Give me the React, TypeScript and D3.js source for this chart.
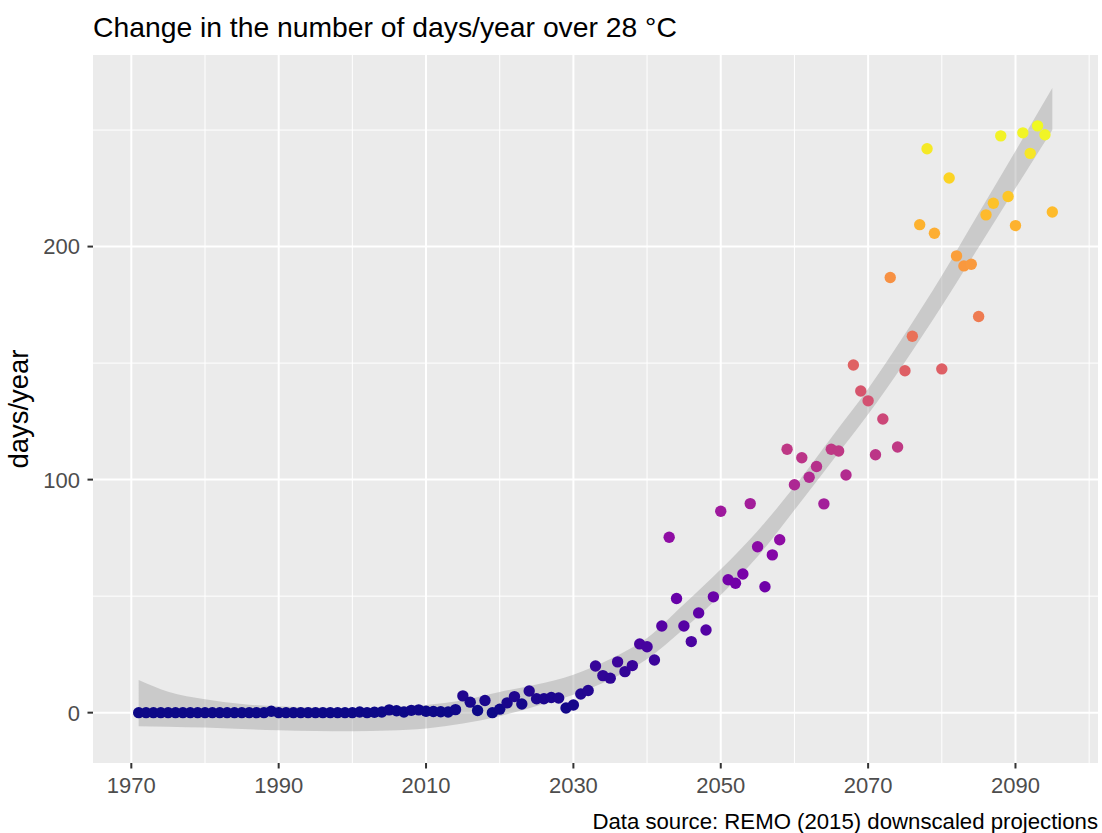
import React from "react";
import * as d3 from "d3";

const years = [
  1971, 1972, 1973, 1974, 1975, 1976, 1977, 1978, 1979, 1980,
  1981, 1982, 1983, 1984, 1985, 1986, 1987, 1988, 1989, 1990,
  1991, 1992, 1993, 1994, 1995, 1996, 1997, 1998, 1999, 2000,
  2001, 2002, 2003, 2004, 2005, 2006, 2007, 2008, 2009, 2010,
  2011, 2012, 2013, 2014, 2015, 2016, 2017, 2018, 2019, 2020,
  2021, 2022, 2023, 2024, 2025, 2026, 2027, 2028, 2029, 2030,
  2031, 2032, 2033, 2034, 2035, 2036, 2037, 2038, 2039, 2040,
  2041, 2042, 2043, 2044, 2045, 2046, 2047, 2048, 2049, 2050,
  2051, 2052, 2053, 2054, 2055, 2056, 2057, 2058, 2059, 2060,
  2061, 2062, 2063, 2064, 2065, 2066, 2067, 2068, 2069, 2070,
  2071, 2072, 2073, 2074, 2075, 2076, 2077, 2078, 2079, 2080,
  2081, 2082, 2083, 2084, 2085, 2086, 2087, 2088, 2089, 2090,
  2091, 2092, 2093, 2094, 2095,
];

const daysOver28 = [
  0, 0, 0, 0, 0, 0, 0, 0, 0, 0,
  0, 0, 0, 0, 0, 0, 0, 0, 0.6, 0,
  0, 0, 0, 0, 0, 0, 0, 0, 0, 0,
  0.3, 0, 0.2, 0.3, 1.2, 0.8, 0.3, 1.0, 1.2, 0.6,
  0.5, 0.4, 0.3, 1.3, 7.2, 4.5, 0.9, 5.2, 0, 1.5,
  4.2, 6.9, 3.7, 9.3, 6, 6, 6.5, 6.3, 2, 3.3,
  8, 9.5, 20, 15.9, 14.8, 21.8, 17.6, 20.2, 29.5, 28.3,
  22.6, 37.2, 75.3, 49, 37.2, 30.5, 42.8, 35.5, 49.7, 86.4,
  57, 55.5, 59.5, 89.7, 71.2, 54, 67.7, 74.2, 113, 97.8,
  109.4, 101, 105.6, 89.6, 113, 112.3, 102, 149.2, 138, 133.8,
  110.7, 126, 186.7, 114, 146.7, 161.5, 209.4, 242, 205.7, 147.5,
  229.4, 196, 191.7, 192.4, 170, 213.6, 218.6, 247.5, 221.5, 209,
  248.8, 240, 251.8, 248, 214.8,
];

// smoother confidence band
const ribbonYears = [
  1971, 1975, 1980, 1985, 1990, 1995, 2000, 2005, 2010, 2015, 2020, 2025, 2030,
  2035, 2040, 2045, 2050, 2055, 2060, 2065, 2070, 2075, 2080, 2085, 2090, 2095,
];
const ribbonLower = [
  -5.8, -6, -6.4, -7, -7.5, -7.9, -8, -7.7, -6.8, -4.7, -1.5, 2.9, 7.7,
  14.2, 23, 36, 50.5, 67, 87, 107.5, 128, 150.5, 174.5, 199.7, 225, 250,
];
const ribbonUpper = [
  14, 9, 5.8, 3.7, 2.7, 2.2, 1.9, 2.5, 3.3, 5.3, 8.9, 12.1, 16.3,
  23, 32, 46.5, 61.5, 78, 97, 118, 139, 162.5, 187.5, 214.3, 241, 268,
];

const xMajor = [1970, 1990, 2010, 2030, 2050, 2070, 2090];
const xMinor = [1980, 2000, 2020, 2040, 2060, 2080, 2100];
const yMajor = [0, 100, 200];
const yMinor = [50, 150, 250];

const titleText = "Change in the number of days/year over 28 °C";
const yTitle = "days/year";
const captionText = "Data source: REMO (2015) downscaled projections";

export default function App() {
  const W = 1102;
  const H = 833;
  const left = 93, right = 1098, top = 55, bottom = 763;
  const x = d3.scaleLinear().domain([1964.8, 2101.2]).range([left, right]);
  const y = d3.scaleLinear().domain([-21.6, 282.2]).range([bottom, top]);
  const vmax = d3.max(daysOver28) as number;
  const vmin = d3.min(daysOver28) as number;
  const color = (v: number) => d3.interpolatePlasma((v - vmin) / (vmax - vmin));

  const band = ribbonYears.map((yr, i) => ({ yr, lo: ribbonLower[i], hi: ribbonUpper[i] }));
  const area = d3
    .area<{ yr: number; lo: number; hi: number }>()
    .x((d) => x(d.yr))
    .y0((d) => y(d.lo))
    .y1((d) => y(d.hi))
    .curve(d3.curveMonotoneX);

  const font = "'Liberation Sans', Arial, sans-serif";

  return (
    <svg width={W} height={H} style={{ position: "absolute", left: 0, top: 0 }} fontFamily={font}>
      <rect x={0} y={0} width={W} height={H} fill="#ffffff" />
      <text x={left} y={37} fontSize={28.3} fill="#000">
        {titleText}
      </text>
      <rect x={left} y={top} width={right - left} height={bottom - top} fill="#EBEBEB" />
      {xMinor.map((v) => (
        <line key={"xm" + v} x1={x(v)} x2={x(v)} y1={top} y2={bottom} stroke="#fff" strokeWidth={1} />
      ))}
      {yMinor.map((v) => (
        <line key={"ym" + v} x1={left} x2={right} y1={y(v)} y2={y(v)} stroke="#fff" strokeWidth={1} />
      ))}
      {xMajor.map((v) => (
        <line key={"xM" + v} x1={x(v)} x2={x(v)} y1={top} y2={bottom} stroke="#fff" strokeWidth={2} />
      ))}
      {yMajor.map((v) => (
        <line key={"yM" + v} x1={left} x2={right} y1={y(v)} y2={y(v)} stroke="#fff" strokeWidth={2} />
      ))}
      <path d={area(band) || ""} fill="#999999" fillOpacity={0.4} />
      {years.map((yr, i) => (
        <circle key={yr} cx={x(yr)} cy={y(daysOver28[i])} r={5.7} fill={color(daysOver28[i])} />
      ))}
      {xMajor.map((v) => (
        <g key={"xt" + v}>
          <line x1={x(v)} x2={x(v)} y1={bottom} y2={bottom + 5.5} stroke="#333" strokeWidth={2} />
          <text x={x(v)} y={793} textAnchor="middle" fontSize={22} fill="#4D4D4D">
            {v}
          </text>
        </g>
      ))}
      {yMajor.map((v) => (
        <g key={"yt" + v}>
          <line x1={left - 5.5} x2={left} y1={y(v)} y2={y(v)} stroke="#333" strokeWidth={2} />
          <text x={80} y={y(v)} dy="0.36em" textAnchor="end" fontSize={22} fill="#4D4D4D">
            {v}
          </text>
        </g>
      ))}
      <text
        transform={`translate(28,${(top + bottom) / 2}) rotate(-90)`}
        textAnchor="middle"
        fontSize={27.4}
        fill="#000"
      >
        {yTitle}
      </text>
      <text x={right} y={829} textAnchor="end" fontSize={22.2} fill="#000">
        {captionText}
      </text>
    </svg>
  );
}
